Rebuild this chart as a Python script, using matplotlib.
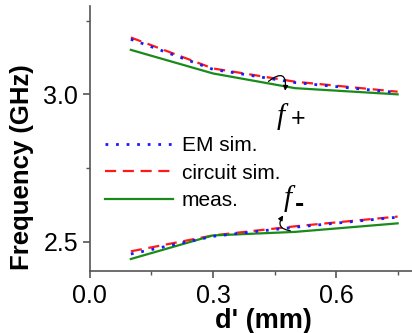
import matplotlib
matplotlib.use("Agg")
import matplotlib.pyplot as plt

# Data
d_vals = [0.1, 0.3, 0.5, 0.75]
em_upper = [3.187, 3.085, 3.040, 3.006]
circ_upper = [3.193, 3.088, 3.043, 3.009]
meas_upper = [3.151, 3.071, 3.021, 3.000]
em_lower = [2.458, 2.518, 2.549, 2.583]
circ_lower = [2.467, 2.521, 2.552, 2.585]
meas_lower = [2.441, 2.521, 2.533, 2.562]

xticks = [0.0, 0.3, 0.6]
xtick_labels = ["0.0", "0.3", "0.6"]
yticks = [2.5, 3.0]
ytick_labels = ["2.5", "3.0"]

plt.rcParams['font.family'] = ['Liberation Sans', 'DejaVu Sans']

fig = plt.figure(figsize=(4.12, 3.33), dpi=100)
ax = fig.add_axes([0.218, 0.186, 0.782, 0.796])

lw = 1.6
l1, = ax.plot(d_vals, em_upper, color='#1a1aff', linestyle=(0, (1, 2.8)), lw=lw + 0.4, label='EM sim.', zorder=3)
l2, = ax.plot(d_vals, circ_upper, color='#ff1a1a', linestyle=(0, (5, 3)), lw=lw, label='circuit sim.', zorder=2)
l3, = ax.plot(d_vals, meas_upper, color='#1a8a1a', linestyle='-', lw=lw, label='meas.', zorder=2)
ax.plot(d_vals, em_lower, color='#1a1aff', linestyle=(0, (1, 2.8)), lw=lw + 0.4, zorder=3)
ax.plot(d_vals, circ_lower, color='#ff1a1a', linestyle=(0, (5, 3)), lw=lw, zorder=2)
ax.plot(d_vals, meas_lower, color='#1a8a1a', linestyle='-', lw=lw, zorder=2)

ax.set_xlim(0.0, 0.785)
ax.set_ylim(2.4, 3.3)
ax.set_xticks(xticks)
ax.set_xticklabels(xtick_labels)
ax.set_yticks(yticks)
ax.set_yticklabels(ytick_labels)
ax.set_xticks([0.15, 0.45, 0.75], minor=True)
ax.set_yticks([2.75, 3.25], minor=True)

for s in ['top', 'right']:
    ax.spines[s].set_visible(False)
for s in ['left', 'bottom']:
    ax.spines[s].set_color('#555555')
    ax.spines[s].set_linewidth(1.2)

ax.tick_params(axis='both', which='major', direction='out', length=5, width=1.2,
               color='#555555', labelsize=18)
ax.tick_params(axis='x', which='major', pad=4.5)
ax.tick_params(axis='y', which='major', pad=3.5)
ax.tick_params(axis='both', which='minor', direction='out', length=3, width=1.0, color='#555555')

ax.set_xlabel("d' (mm)", fontsize=19.5, fontweight='bold')
ax.xaxis.set_label_coords(0.54, -0.14)
ax.set_ylabel("Frequency (GHz)", fontsize=18.5, fontweight='bold')
ax.yaxis.set_label_coords(-0.174, 0.392)

leg = ax.legend(handles=[l1, l2, l3], loc='upper left', bbox_to_anchor=(0.02, 0.54),
                frameon=False, fontsize=15, handlelength=3.3, handletextpad=0.4,
                labelspacing=0.4, borderaxespad=0)

# annotations
ax.annotate('', xy=(0.475, 3.003), xytext=(0.43, 3.038),
            arrowprops=dict(arrowstyle='-|>', color='black', lw=0.9,
                            connectionstyle='arc3,rad=-1.3', mutation_scale=7))
ax.annotate('', xy=(0.475, 2.597), xytext=(0.495, 2.536),
            arrowprops=dict(arrowstyle='-|>', color='black', lw=0.9,
                            connectionstyle='arc3,rad=-0.9', mutation_scale=7))

ax.text(0.455, 2.925, 'f', family='Liberation Serif', style='italic', fontsize=21,
        ha='left', va='center')
ax.text(0.49, 2.918, '+', fontsize=18, ha='left', va='center')
ax.text(0.472, 2.645, 'f', family='Liberation Serif', style='italic', fontsize=21,
        ha='left', va='center')
ax.text(0.5, 2.625, '-', fontsize=20, ha='left', va='center', fontweight='bold')

fig.savefig('out.png', dpi=100)
